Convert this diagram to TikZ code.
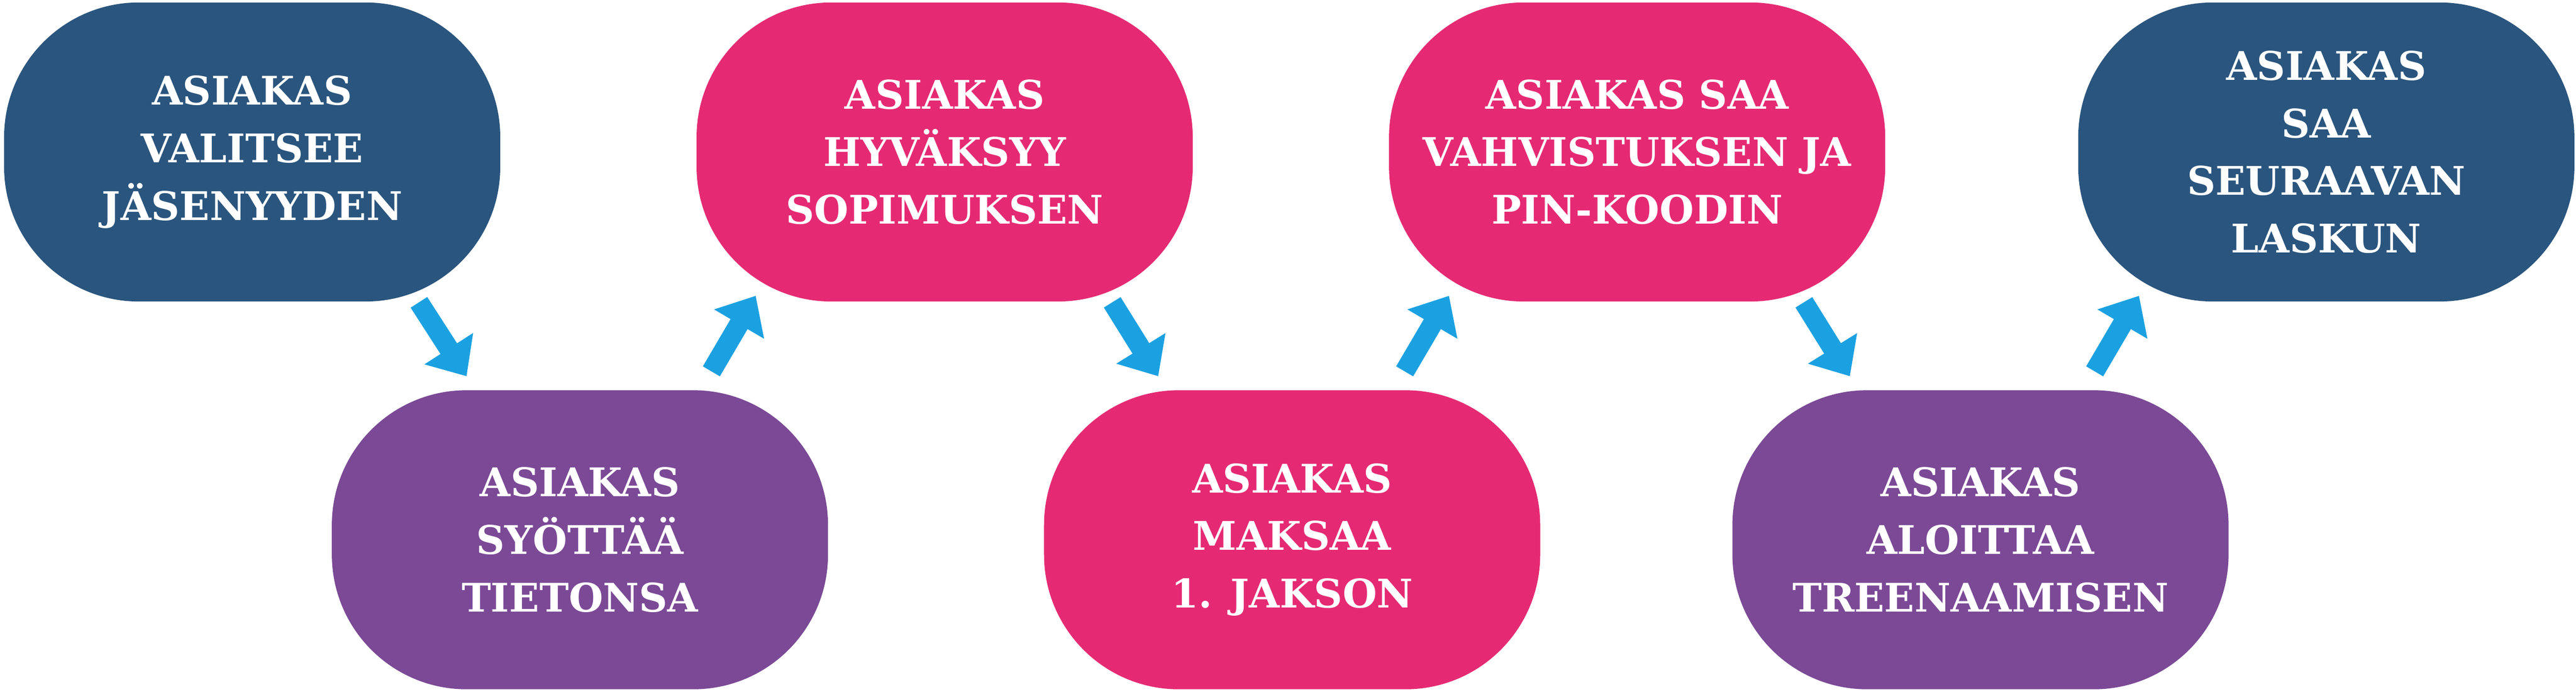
\documentclass[tikz,border=0pt]{standalone}
\usepackage{fontspec}
\setmainfont{DejaVu Serif}
\usetikzlibrary{arrows.meta}
\definecolor{cblue}{HTML}{2A557E}
\definecolor{cpurple}{HTML}{7B4996}
\definecolor{cpink}{HTML}{E52A73}
\definecolor{carrow}{HTML}{1BA1E2}
\begin{document}
\begin{tikzpicture}[x=1pt,y=-1pt,
  stepbox/.style={rounded corners=82pt,minimum width=302pt,minimum height=182pt,
    text=white,font=\bfseries\fontsize{24}{35}\selectfont,align=center,inner sep=0pt},
  flow/.style={carrow,line width=12pt,-{Triangle[length=20pt,width=34pt]}}]
\useasboundingbox (0,0) rectangle (1568,421);
\node[stepbox,fill=cblue]   (n1) at (153.5,92.5) {ASIAKAS\\VALITSEE\\JÄSENYYDEN};
\node[stepbox,fill=cpurple] (n2) at (353,328.5) {ASIAKAS\\SYÖTTÄÄ\\TIETONSA};
\node[stepbox,fill=cpink]   (n3) at (575,92.5) {ASIAKAS\\HYVÄKSYY\\SOPIMUKSEN};
\node[stepbox,fill=cpink]   (n4) at (786.5,328.5) {ASIAKAS\\MAKSAA\\1. JAKSON};
\node[stepbox,fill=cpink]   (n5) at (996.5,92.5) {ASIAKAS SAA\\VAHVISTUKSEN JA\\PIN-KOODIN};
\node[stepbox,fill=cpurple] (n6) at (1205.5,328.5) {ASIAKAS\\ALOITTAA\\TREENAAMISEN};
\node[stepbox,fill=cblue]   (n7) at (1416,92.5) {ASIAKAS\\SAA\\SEURAAVAN\\LASKUN};
\coordinate (a1s) at (255,184); \coordinate (a1e) at (284,229);
\coordinate (a2s) at (433,226); \coordinate (a2e) at (460,180);
\coordinate (a3s) at (677,184); \coordinate (a3e) at (705,229);
\coordinate (a4s) at (855,226); \coordinate (a4e) at (882,180);
\coordinate (a5s) at (1098,184); \coordinate (a5e) at (1126,229);
\coordinate (a6s) at (1275,226); \coordinate (a6e) at (1302,180);
\draw[flow] (a1s) -- (a1e);
\draw[flow] (a2s) -- (a2e);
\draw[flow] (a3s) -- (a3e);
\draw[flow] (a4s) -- (a4e);
\draw[flow] (a5s) -- (a5e);
\draw[flow] (a6s) -- (a6e);
\end{tikzpicture}
\end{document}
